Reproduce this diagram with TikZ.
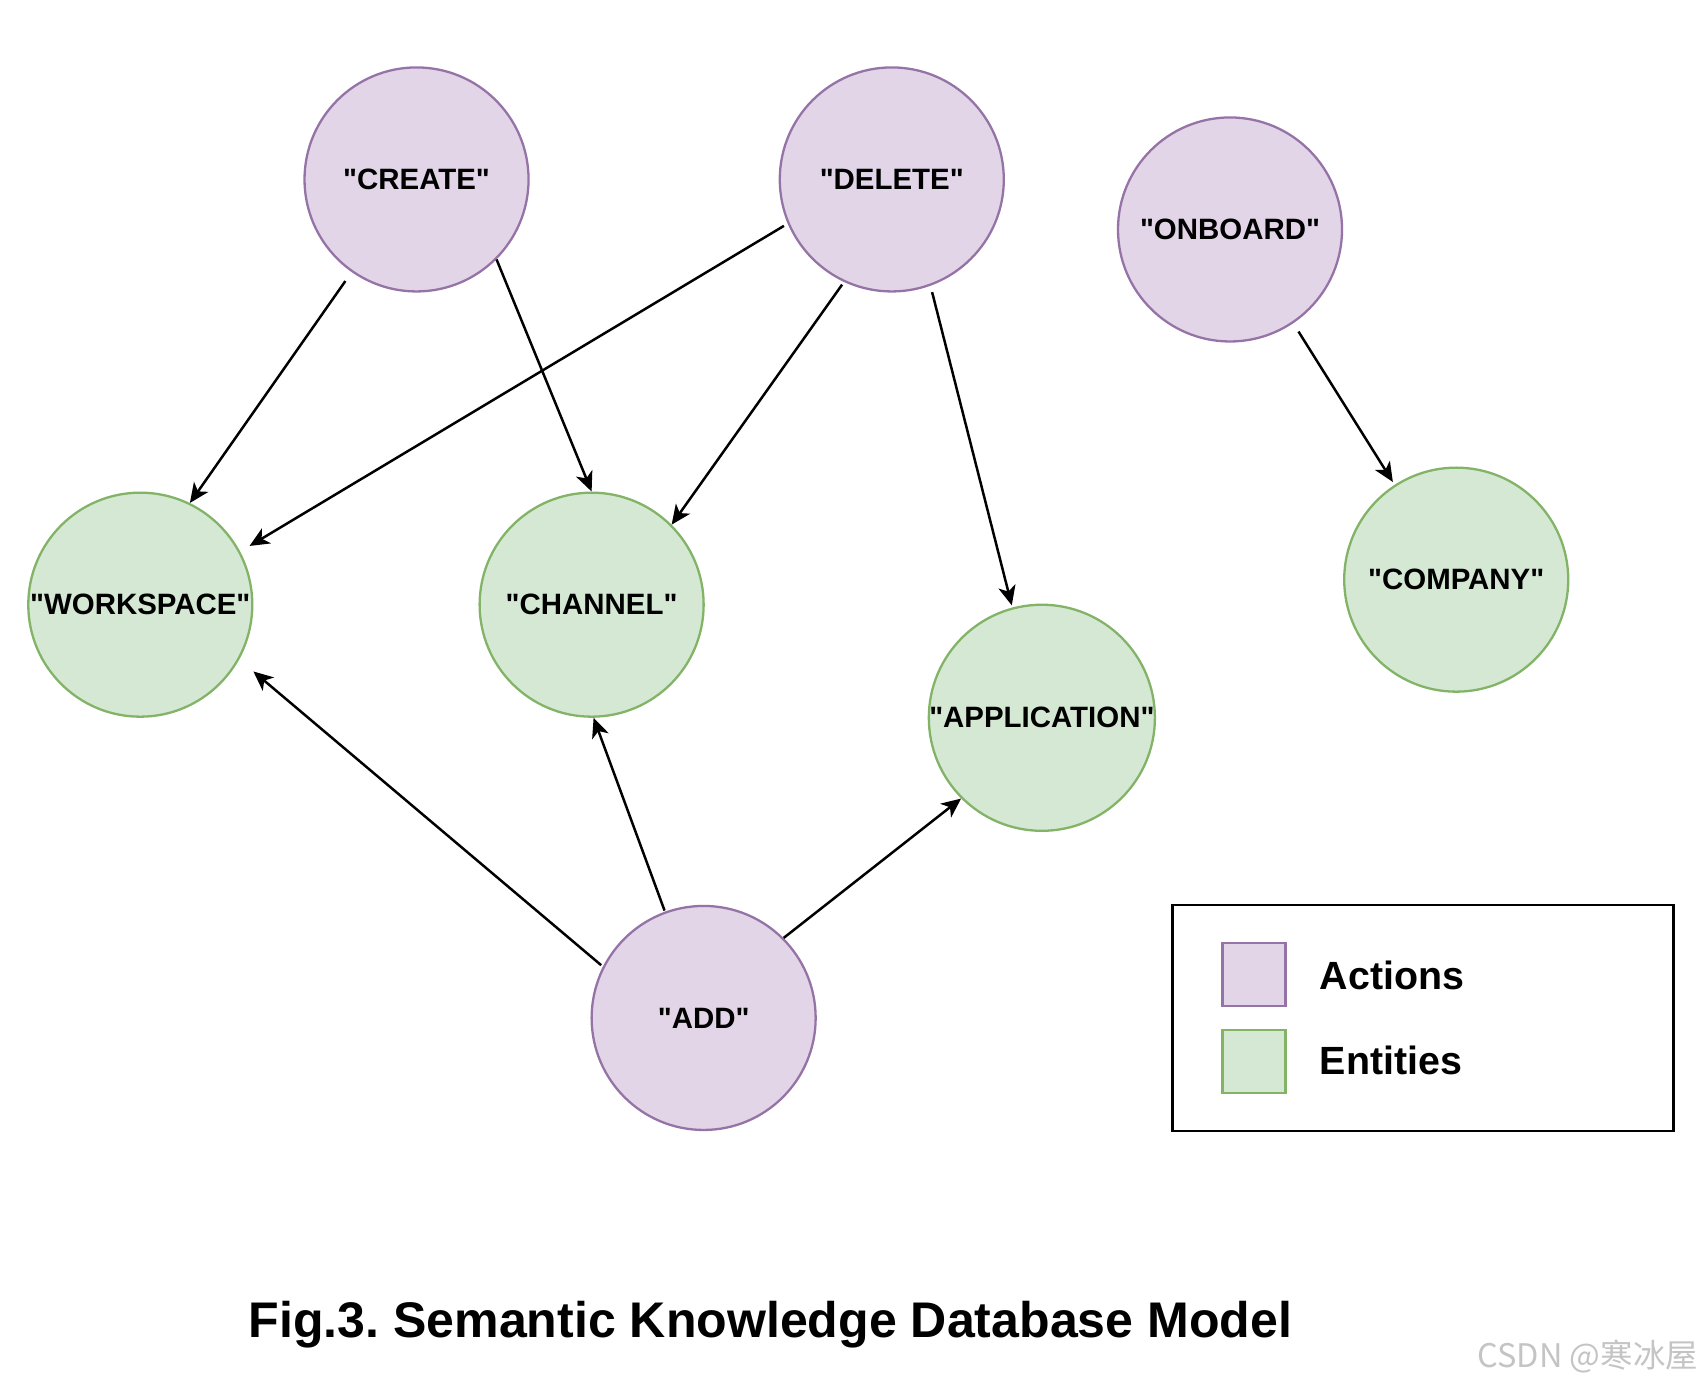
\documentclass[tikz,border=0pt]{standalone}
\usepackage{fontspec}
\setmainfont{Liberation Sans}[Ligatures=TeXOff]
\newfontfamily\cjkfont{Noto Sans CJK SC}
\usetikzlibrary{arrows.meta}
\frenchspacing
\newcommand\dq{\char34\relax}
\definecolor{actfill}{HTML}{E1D5E7}
\definecolor{actline}{HTML}{9673A6}
\definecolor{entfill}{HTML}{D5E8D4}
\definecolor{entline}{HTML}{82B366}
\definecolor{wmgray}{HTML}{C4C4C4}
\tikzset{
  actnode/.style={circle, minimum size=2.06cm, inner sep=0pt, fill=actfill, draw=actline, line width=0.6pt, font=\fontsize{7.7}{9}\selectfont\bfseries},
  entnode/.style={circle, minimum size=2.06cm, inner sep=0pt, fill=entfill, draw=entline, line width=0.6pt, font=\fontsize{7.7}{9}\selectfont\bfseries},
  conn/.style={line width=0.65pt, -{Stealth[length=0.18cm, width=0.16cm, inset=0.05cm]}},
  legbox/.style={minimum size=0.58cm, inner sep=0pt, line width=0.6pt},
  legtext/.style={anchor=base west, inner sep=0pt, font=\fontsize{10.3}{12}\selectfont\bfseries}
}
\begin{document}
\begin{tikzpicture}
\useasboundingbox (0,0) rectangle (15.65,-12.717);
% nodes
\node[actnode] (create) at (3.83,-1.65) {\dq CREATE\dq};
\node[actnode] (delete) at (8.20,-1.65) {\dq DELETE\dq};
\node[actnode] (onboard) at (11.31,-2.11) {\dq ONBOARD\dq};
\node[entnode] (workspace) at (1.29,-5.56) {\dq WORKSPACE\dq};
\node[entnode] (channel) at (5.44,-5.56) {\dq CHANNEL\dq};
\node[entnode] (application) at (9.58,-6.60) {\dq APPLICATION\dq};
\node[entnode] (company) at (13.39,-5.33) {\dq COMPANY\dq};
\node[actnode] (add) at (6.47,-9.36) {\dq ADD\dq};
% connectors
\draw[conn, shorten <=0.1cm] (create.235) -- (workspace.64);
\draw[conn] (create.-45) -- (channel.90);
\draw[conn, shorten <=0.04cm, shorten >=0.1cm] (delete.203) -- (workspace.28);
\draw[conn, shorten <=0.03cm] (delete.245.6) -- (channel.45.4);
\draw[conn, shorten <=0.06cm, shorten >=0.02cm] (delete.-70.7) -- (application.105);
\draw[conn, shorten <=0.09cm, shorten >=0.03cm] (onboard.-56) -- (company.123);
\draw[conn, shorten <=0.02cm, shorten >=0.17cm] (add.153.7) -- (workspace.-29.7);
\draw[conn, shorten <=0.01cm] (add.110.7) -- (channel.-89.5);
\draw[conn] (add.45.8) -- (application.225.4);
% legend
\draw[line width=0.7pt] (10.78,-8.32) rectangle (15.39,-10.40);
\node[legbox, fill=actfill, draw=actline] (legact) at (11.53,-8.96) {};
\node[legbox, fill=entfill, draw=entline] (legent) at (11.53,-9.76) {};
\node[legtext] (legacttext) at (12.13,-9.10) {Actions};
\node[legtext] (legenttext) at (12.13,-9.88) {Entities};
% caption
\node[anchor=base west, inner sep=0pt, font=\fontsize{13.1}{15}\selectfont\bfseries] (caption) at (2.28,-12.30) {Fig.3. Semantic Knowledge Database Model};
% watermark
\node[anchor=base east, inner sep=0pt, text=wmgray, font=\cjkfont\fontsize{8.5}{10}\selectfont] (wm) at (15.62,-12.57) {CSDN @寒冰屋};
\end{tikzpicture}
\end{document}
